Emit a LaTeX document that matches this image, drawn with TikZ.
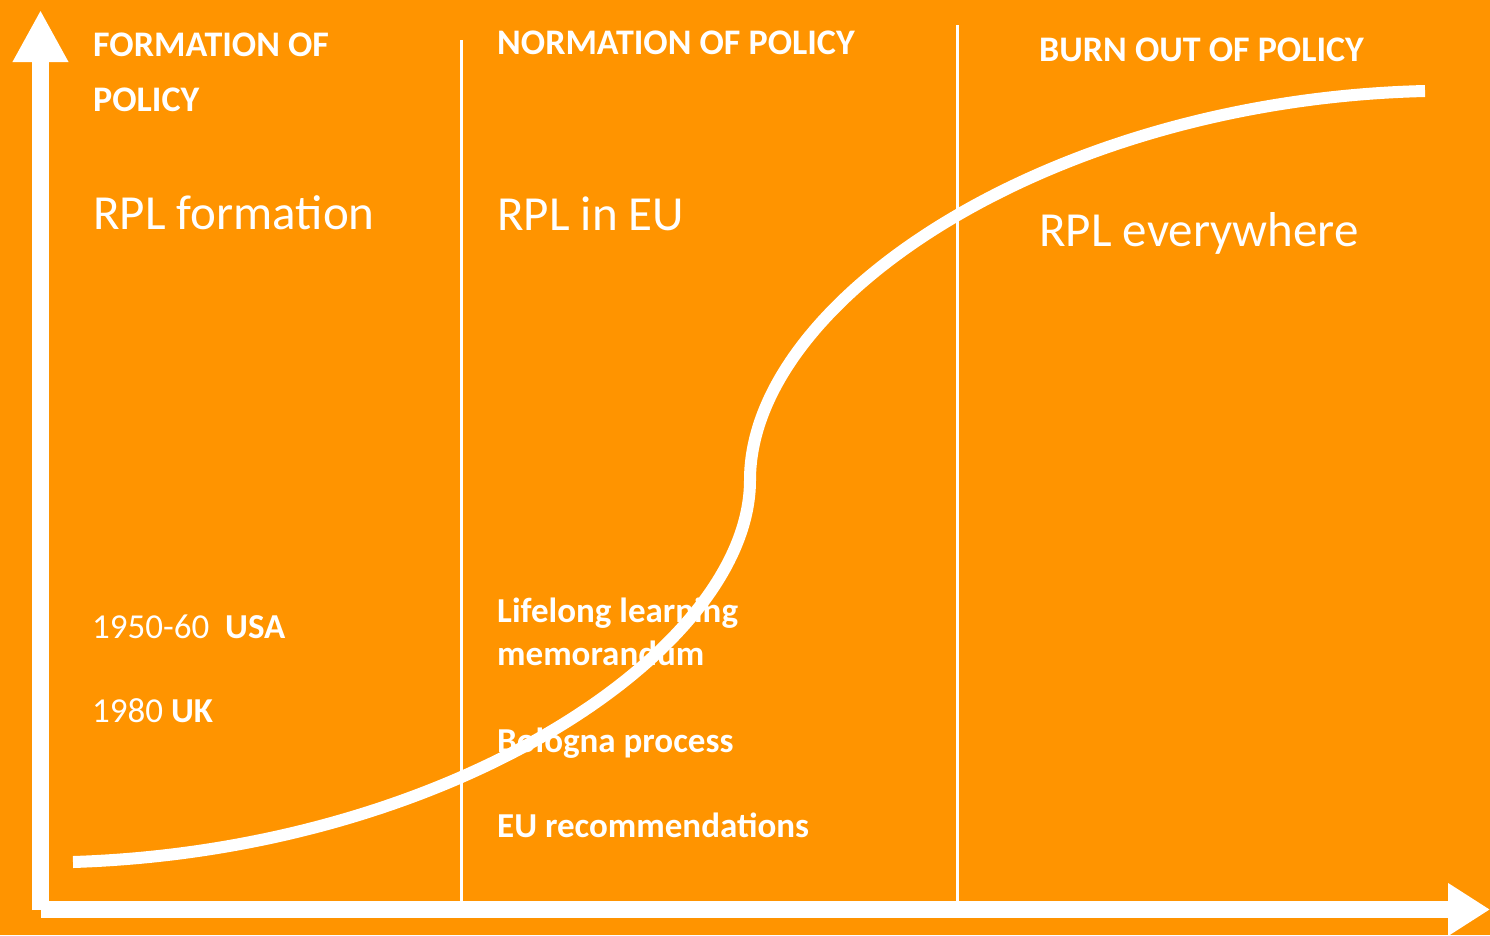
\documentclass[tikz,border=0pt]{standalone}
\usepackage{fontspec}
\setmainfont{Carlito}
\usepackage{xcolor}
\usetikzlibrary{arrows.meta}
\definecolor{policyorange}{RGB}{255,148,0}

\begin{document}
\begin{tikzpicture}[x=1pt,y=-1pt,
	txt/.style={anchor=base west,inner sep=0pt,text=white,align=left},
	head/.style={txt,font=\bfseries\fontsize{36}{55}\selectfont},
	phase/.style={txt,font=\fontsize{49}{50}\selectfont},
	event/.style={txt,font=\fontsize{35}{43}\selectfont}]
	\useasboundingbox (0,0) rectangle (1490,935);
	\fill[policyorange] (0,0) rectangle (1490,935);
	% axes
	\draw[white,line width=17pt,-{Triangle[length=52pt,width=52pt]}] (40.5,910)--(40.5,10);
	\draw[white,line width=17pt,-{Triangle[length=42pt,width=50pt]}] (41,909.5)--(1490,909.5);
	% phase borders
	\draw[white,line width=3pt] (461,40)--(461,901);
	\draw[white,line width=3pt] (957.5,25)--(957.5,901);
	% s-curve
	\draw[white,line width=12pt] (73,862) .. controls (450,850) and (750,650) .. (750,480)
		.. controls (750,300) and (1050,100) .. (1425,91);
	% headings (two-line nodes sit on their last baseline)
	\node[head] (formhead) at (93,111) {FORMATION OF\\POLICY};
	\node[head] (normhead) at (497,54) {NORMATION OF POLICY};
	\node[head] (burnhead) at (1039,61.5) {BURN OUT OF POLICY};
	\node[phase] (form) at (93,229) {RPL formation};
	\node[phase] (eu) at (497,230) {RPL in EU};
	\node[phase] (every) at (1039,246) {RPL everywhere};
	% events
	\node[event] (usa) at (92,638) {1950-60\ \ \textbf{USA}};
	\node[event] (uk) at (92,722) {1980 \textbf{UK}};
	\node[event,font=\bfseries\fontsize{35}{43}\selectfont] (llm) at (497,665) {Lifelong learning\\memorandum};
	\node[event,font=\bfseries\fontsize{35}{43}\selectfont] (bol) at (497,752) {Bologna process};
	\node[event,font=\bfseries\fontsize{35}{43}\selectfont] (rec) at (497,837) {EU recommendations};
\end{tikzpicture}
\end{document}
